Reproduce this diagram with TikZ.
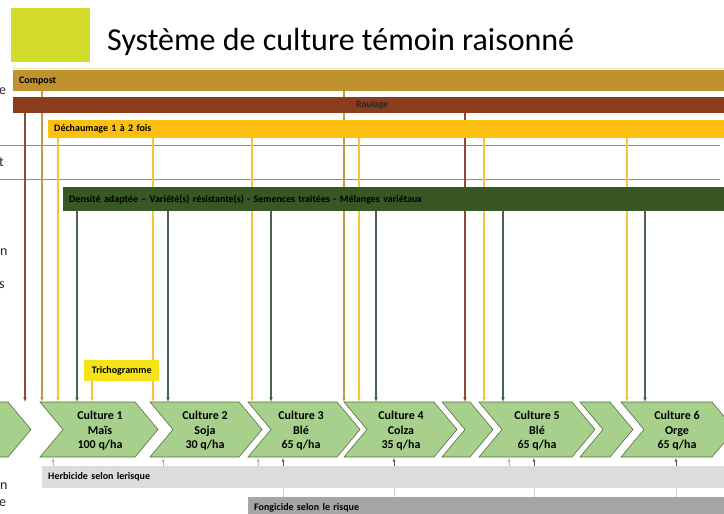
\documentclass[tikz,border=0pt]{standalone}
\usepackage{fontspec}
\setmainfont{Carlito}
\usetikzlibrary{arrows.meta}
\pgfdeclarelayer{background}
\pgfsetlayers{background,main}

\definecolor{titlegreen}{HTML}{D3DB2B}
\definecolor{compostc}{HTML}{C0922F}
\definecolor{roulc}{HTML}{8A3D1C}
\definecolor{dechc}{HTML}{FDC010}
\definecolor{semc}{HTML}{385723}
\definecolor{chevc}{HTML}{A8D08D}
\definecolor{chevline}{HTML}{55703F}
\definecolor{herbc}{HTML}{D9D9D9}
\definecolor{fongc}{HTML}{A5A5A5}
\definecolor{tricc}{HTML}{F5E31A}
\definecolor{roullinec}{HTML}{8E4B33}
\definecolor{compostlinec}{HTML}{BF9A4A}
\definecolor{dechlinec}{HTML}{F9C23C}
\definecolor{semlinec}{HTML}{4A654A}

% chevron: top-left x, top-right x
\newcommand{\chevron}[2]{%
  \filldraw[fill=chevc, draw=chevline, line width=0.6pt]
    (#1,402) -- (#2,402) -- (#2+23,429.5) -- (#2,457) -- (#1,457) -- (#1+23,429.5) -- cycle;}

\begin{document}
\begin{tikzpicture}[x=1pt,y=-1pt,
  bar/.style={rectangle, inner sep=0pt, inner xsep=6pt, anchor=north west, align=left,
    font=\bfseries\fontsize{10}{11}\selectfont},
  cullabel/.style={align=center, font=\bfseries\fontsize{12}{14.5}\selectfont},
  edgeletter/.style={anchor=west, inner sep=0pt, font=\fontsize{14}{14}\selectfont, text=black!85},
  roulline/.style={draw=roullinec},
  compostline/.style={draw=compostlinec},
  dechline/.style={draw=dechlinec},
  semline/.style={draw=semlinec},
  herbline/.style={draw=black!30},
  fongline/.style={draw=black!65},
  fongfaint/.style={draw=black!18}]
\useasboundingbox (0,0) rectangle (724,514);

% title
\fill[titlegreen] (11,8) rectangle (90,62);
\node[anchor=base west, inner sep=0pt, font=\fontsize{32}{36}\selectfont] (title) at (107,50) {Système de culture témoin raisonné};
\draw[line width=1pt, color={rgb,255:red,238;green,226;blue,180}] (13,68) -- (724,68);

% cut row headings
\node[edgeletter] (h1) at (-1,91) {e};
\node[edgeletter] (h2) at (-1,162) {t};
\node[edgeletter] (h3) at (0,252) {n};
\node[edgeletter] (h4) at (-1,285) {s};
\node[edgeletter] (h5) at (0,486) {n};
\node[edgeletter] (h6) at (-1,503) {e};

% interventions
\node[bar, fill=compostc, minimum height=21pt, text width=706pt] (compost) at (13,70) {Compost};
\node[bar, fill=roulc, minimum height=16pt, text width=706pt, align=center, text=black!85,
  font=\bfseries\fontsize{9.5}{10}\selectfont] (roul) at (13,97) {Roulage};
\node[bar, fill=dechc, minimum height=18pt, text width=670pt] (dech) at (48,120) {Déchaumage 1 à 2 fois};
\node[bar, fill=semc, minimum height=24pt, text width=655pt, text=black] (sem) at (63,187) {Densité adaptée – Variété(s) résistante(s) - Semences traitées - Mélanges variétaux};
\node[bar, fill=tricc, minimum width=75pt, minimum height=21pt, inner xsep=0pt, align=center] (tric) at (84,360) {Trichogramme};
\node[bar, fill=herbc, fill opacity=0.93, text opacity=1, minimum height=22pt, text width=670pt] (herb) at (42,466) {Herbicide selon lerisque};
\node[bar, fill=fongc, minimum height=21pt, text width=464pt] (fong) at (248,497) {Fongicide selon le risque};

% crop sequence
\coordinate (row) at (0,402);
\coordinate (rowb) at (0,458);
\chevron{-100}{8}
\chevron{40}{135}
\chevron{150}{239}
\chevron{248}{337}
\chevron{344}{434}
\chevron{442}{470}
\chevron{479}{572}
\chevron{580}{610}
\chevron{621}{712}
\node[cullabel] (cul1) at (100,431) {Culture 1\\Maïs\\100 q/ha};
\node[cullabel] (cul2) at (205,431) {Culture 2\\Soja\\30 q/ha};
\node[cullabel] (cul3) at (301,431) {Culture 3\\Blé\\65 q/ha};
\node[cullabel] (cul4) at (401,431) {Culture 4\\Colza\\35 q/ha};
\node[cullabel] (cul5) at (537,431) {Culture 5\\Blé\\65 q/ha};
\node[cullabel] (cul6) at (677,431) {Culture 6\\Orge\\65 q/ha};

\begin{pgfonlayer}{background}
\draw[line width=1pt, black!45] (0,145) -- (720,145);
\draw[line width=1pt, black!45] (0,179) -- (720,179);

\begin{scope}[every edge/.style={draw, line width=1.4pt}, >={Latex[length=4.5pt,width=4pt]}]
    \path [->] (roul.south -| 25,0) edge[roulline] (row -| 25,0);
    \path [->] (roul.south -| 465,0) edge[roulline] (row -| 465,0);
    \path [->] (compost.south -| 42,0) edge[compostline] (row -| 42,0);
    \path [->] (compost.south -| 344,0) edge[compostline] (row -| 344,0);
    \path [->] (dech.south -| 58,0) edge[dechline] (row -| 58,0);
    \path [->] (dech.south -| 153,0) edge[dechline] (row -| 153,0);
    \path [->] (dech.south -| 252,0) edge[dechline] (row -| 252,0);
    \path [->] (dech.south -| 359,0) edge[dechline] (row -| 359,0);
    \path [->] (dech.south -| 484,0) edge[dechline] (row -| 484,0);
    \path [->] (dech.south -| 627,0) edge[dechline] (row -| 627,0);
    \path [->] (sem.south -| 77,0) edge[semline] (row -| 77,0);
    \path [->] (sem.south -| 168,0) edge[semline] (row -| 168,0);
    \path [->] (sem.south -| 271,0) edge[semline] (row -| 271,0);
    \path [->] (sem.south -| 376,0) edge[semline] (row -| 376,0);
    \path [->] (sem.south -| 503,0) edge[semline] (row -| 503,0);
    \path [->] (sem.south -| 645,0) edge[semline] (row -| 645,0);
    \path [->] (tric.south -| 92,0) edge[dechline] (row -| 92,0);
\end{scope}

\begin{scope}[every edge/.style={draw, line width=1pt}, >={Latex[length=3.5pt,width=3pt]}]
    \path [->] (herb.north -| 53,0) edge[herbline] (rowb -| 53,0);
    \path [->] (herb.north -| 163,0) edge[herbline] (rowb -| 163,0);
    \path [->] (herb.north -| 258,0) edge[herbline] (rowb -| 258,0);
    \path [->] (herb.north -| 509,0) edge[herbline] (rowb -| 509,0);
    \path (fong.north -| 283,0) edge[fongfaint] (herb.north -| 283,0);
    \path (fong.north -| 394,0) edge[fongfaint] (herb.north -| 394,0);
    \path (fong.north -| 534,0) edge[fongfaint] (herb.north -| 534,0);
    \path (fong.north -| 676,0) edge[fongfaint] (herb.north -| 676,0);
    \path [->] (herb.north -| 283,0) edge[fongline] (rowb -| 283,0);
    \path [->] (herb.north -| 394,0) edge[fongline] (rowb -| 394,0);
    \path [->] (herb.north -| 534,0) edge[fongline] (rowb -| 534,0);
    \path [->] (herb.north -| 676,0) edge[fongline] (rowb -| 676,0);
\end{scope}
\end{pgfonlayer}
\end{tikzpicture}
\end{document}
